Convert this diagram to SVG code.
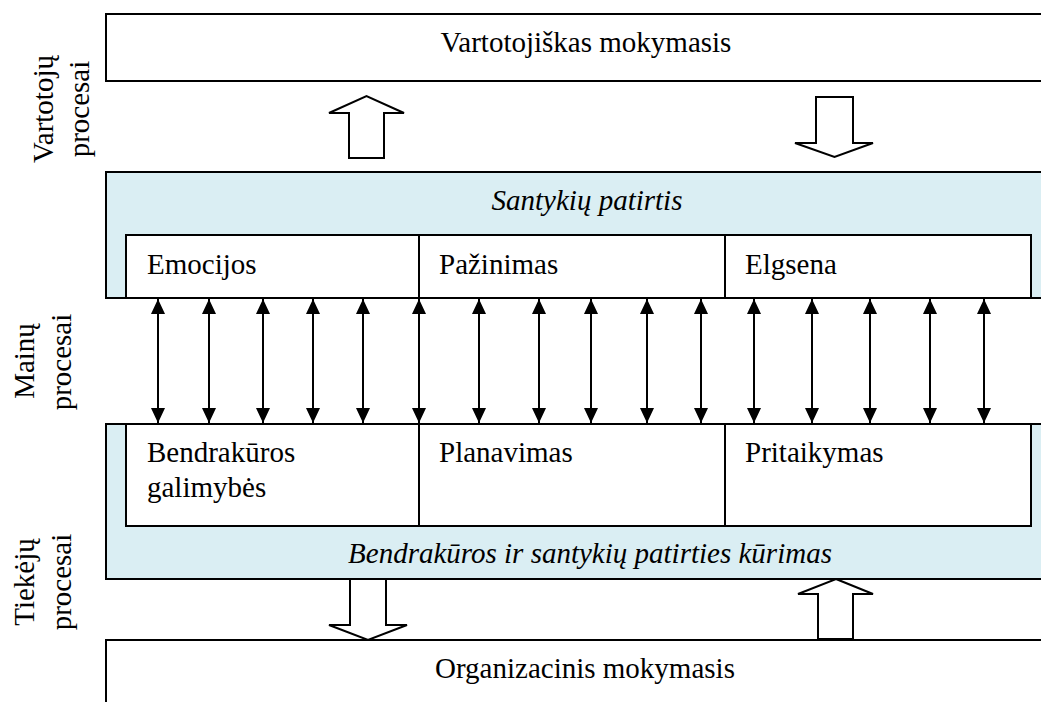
<svg xmlns="http://www.w3.org/2000/svg" width="1041" height="702" viewBox="0 0 1041 702">
<style>
  .box { fill: #ffffff; stroke: #000000; stroke-width: 2; }
  .band { fill: #DAEEF3; stroke: #000000; stroke-width: 2; }
  .blk { fill: #ffffff; stroke: #000000; stroke-width: 2; stroke-linejoin: miter; }
  .dbl { stroke: #000000; stroke-width: 2; fill: none; marker-start: url(#tri); marker-end: url(#tri); }
  .t { font-family: "Liberation Serif", "Times New Roman", serif; font-size: 29px; fill: #000000; }
  .i { font-style: italic; }
  .c { text-anchor: middle; }
</style>
<defs>
  <marker id="tri" viewBox="0 0 15 14" refX="15" refY="7" markerWidth="15" markerHeight="14" markerUnits="userSpaceOnUse" orient="auto-start-reverse">
    <path d="M0,0 L15,7 L0,14 z" fill="#000000"/>
  </marker>
</defs>

<g id="labels">
  <text class="t c" transform="translate(53,109) rotate(-90)">Vartotojų</text>
  <text class="t c" transform="translate(89,109) rotate(-90)">procesai</text>
  <text class="t c" transform="translate(34,361) rotate(-90)">Mainų</text>
  <text class="t c" transform="translate(71,362) rotate(-90)">procesai</text>
  <text class="t c" transform="translate(34,582) rotate(-90)">Tiekėjų</text>
  <text class="t c" transform="translate(71,582) rotate(-90)">procesai</text>
</g>

<g id="vartotojiskas">
  <rect class="box" x="106" y="14" width="960" height="67"/>
  <text class="t c" x="586" y="52">Vartotojiškas mokymasis</text>
</g>

<g id="santykiu-patirtis">
  <rect class="band" x="106" y="172" width="960" height="126"/>
  <text class="t i c" x="587" y="210">Santykių patirtis</text>
</g>

<g id="emocijos">
  <rect class="box" x="126" y="235" width="293" height="63"/>
  <text class="t" x="147" y="274">Emocijos</text>
</g>
<g id="pazinimas">
  <rect class="box" x="419" y="235" width="306" height="63"/>
  <text class="t" x="439" y="274">Pažinimas</text>
</g>
<g id="elgsena">
  <rect class="box" x="725" y="235" width="306" height="63"/>
  <text class="t" x="745" y="274">Elgsena</text>
</g>

<g id="bendrakuros-kurimas">
  <rect class="band" x="106" y="424" width="960" height="155"/>
  <text class="t i c" x="590" y="563">Bendrakūros ir santykių patirties kūrimas</text>
</g>

<g id="bendrakuros-galimybes">
  <rect class="box" x="126" y="424" width="293" height="102"/>
  <text class="t" x="147" y="462">Bendrakūros</text>
  <text class="t" x="147" y="497">galimybės</text>
</g>
<g id="planavimas">
  <rect class="box" x="419" y="424" width="306" height="102"/>
  <text class="t" x="439" y="462">Planavimas</text>
</g>
<g id="pritaikymas">
  <rect class="box" x="725" y="424" width="306" height="102"/>
  <text class="t" x="745" y="462">Pritaikymas</text>
</g>

<g id="organizacinis">
  <rect class="box" x="106" y="640" width="960" height="90"/>
  <text class="t c" x="585" y="678">Organizacinis mokymasis</text>
</g>

<g id="connectors">
  <polygon class="blk" points="349,158 349,113 329,113 366.5,96 404,113 384,113 384,158"/>
  <polygon class="blk" points="816,97 853,97 853,143 873,143 834.5,157 795,143 816,143"/>
  <polygon class="blk" points="350,579 386,579 386,625 407,625 368,640 329,625 350,625"/>
  <polygon class="blk" points="836,579 873,594 853,594 853,639 818,639 818,594 798,594"/>
  <path class="dbl" d="M158,299 V423"/>
  <path class="dbl" d="M209,299 V423"/>
  <path class="dbl" d="M263,299 V423"/>
  <path class="dbl" d="M313,299 V423"/>
  <path class="dbl" d="M363,299 V423"/>
  <path class="dbl" d="M419,299 V423"/>
  <path class="dbl" d="M479,299 V423"/>
  <path class="dbl" d="M539,299 V423"/>
  <path class="dbl" d="M591,299 V423"/>
  <path class="dbl" d="M647,299 V423"/>
  <path class="dbl" d="M701,299 V423"/>
  <path class="dbl" d="M754,299 V423"/>
  <path class="dbl" d="M812,299 V423"/>
  <path class="dbl" d="M870,299 V423"/>
  <path class="dbl" d="M930,299 V423"/>
  <path class="dbl" d="M984,299 V423"/>
</g>
</svg>
